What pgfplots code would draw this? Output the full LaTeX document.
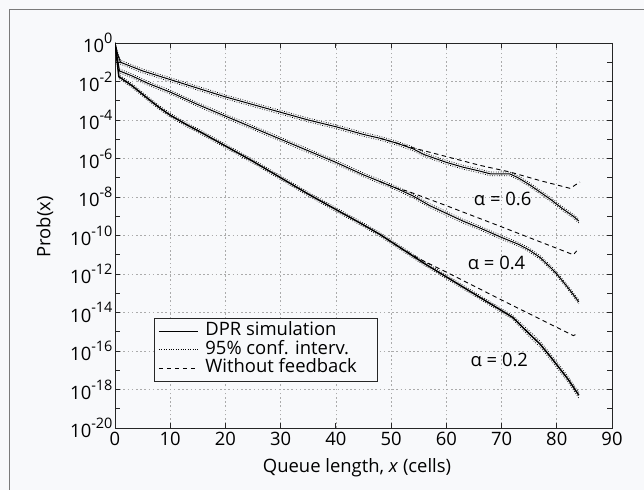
\documentclass[border=0pt]{standalone}
\usepackage{fontspec}
\setmainfont{Open Sans}
\usepackage{pgfplots}
\pgfplotsset{compat=1.18}
\usepackage{pgfplotstable}
\definecolor{bg}{HTML}{F8F9FB}
\definecolor{framegray}{HTML}{7A7A7A}
\definecolor{gridgray}{HTML}{ABABAB}
\newcommand\tf{\fontsize{18.5}{21}\selectfont}
\newcommand\ex[1]{10\raisebox{0.5em}{\fontsize{14.5}{15}\selectfont #1}}

% alpha = 0.6
\pgfplotstableread{
x y lo hi
0 1 1 1
0.5 2.512e-1 1.995e-1 3.162e-1
1 1e-1 7.943e-2 1.259e-1
5 3.548e-2 2.818e-2 4.467e-2
10 1.259e-2 1e-2 1.585e-2
15 4.467e-3 3.548e-3 5.623e-3
20 1.585e-3 1.259e-3 1.995e-3
25 6.310e-4 5.012e-4 7.943e-4
30 2.512e-4 1.995e-4 3.162e-4
35 1e-4 7.943e-5 1.259e-4
40 4.467e-5 3.548e-5 5.623e-5
45 1.778e-5 1.413e-5 2.239e-5
48 1.122e-5 8.913e-6 1.413e-5
51 6.310e-6 5.012e-6 7.943e-6
54 3.162e-6 2.512e-6 3.981e-6
56 1.585e-6 1.259e-6 1.995e-6
58 1e-6 7.943e-7 1.259e-6
60 6.310e-7 5.012e-7 7.943e-7
63 3.548e-7 2.818e-7 4.467e-7
66 2.239e-7 1.778e-7 2.818e-7
68 1.585e-7 1.259e-7 1.995e-7
71.5 1.585e-7 1.259e-7 1.995e-7
73 1e-7 7.943e-8 1.259e-7
75 4.467e-8 3.548e-8 5.623e-8
77 1.778e-8 1.413e-8 2.239e-8
79 7.079e-9 5.623e-9 8.913e-9
81 2.512e-9 1.995e-9 3.162e-9
83 1e-9 7.943e-10 1.259e-9
84 5.623e-10 4.467e-10 7.079e-10
}\simA
\pgfplotstableread{
x y
48 1.122e-5
51 6.310e-6
54 3.548e-6
60 1.259e-6
66 4.467e-7
71.5 1.995e-7
77 7.079e-8
82.4 2.818e-8
84.2 6.0e-8
}\nofbA

% alpha = 0.4
\pgfplotstableread{
x y lo hi
0 1 1 1
0.8 3.548e-2 2.818e-2 4.467e-2
3 1.995e-2 1.585e-2 2.512e-2
6 7.943e-3 6.310e-3 1e-2
10 2.818e-3 2.239e-3 3.548e-3
15 6.310e-4 5.012e-4 7.943e-4
20 1.585e-4 1.259e-4 1.995e-4
25 3.981e-5 3.162e-5 5.012e-5
30 1e-5 7.943e-6 1.259e-5
35 2.512e-6 1.995e-6 3.162e-6
40 6.310e-7 5.012e-7 7.943e-7
45 1.413e-7 1.122e-7 1.778e-7
48 6.310e-8 5.012e-8 7.943e-8
51 2.818e-8 2.239e-8 3.548e-8
54 1.122e-8 8.913e-9 1.413e-8
57 3.548e-9 2.818e-9 4.467e-9
60 1.413e-9 1.122e-9 1.778e-9
63 5.623e-10 4.467e-10 7.079e-10
66 2.512e-10 1.995e-10 3.162e-10
70 7.943e-11 6.310e-11 1e-10
73 3.548e-11 2.818e-11 4.467e-11
75 1.778e-11 1.413e-11 2.239e-11
77 7.079e-12 5.623e-12 8.913e-12
79 1.995e-12 1.585e-12 2.512e-12
80 1e-12 7.943e-13 1.259e-12
82 1.995e-13 1.585e-13 2.512e-13
84 3.548e-14 2.818e-14 4.467e-14
}\simB
\pgfplotstableread{
x y
48 6.310e-8
51 2.818e-8
53 2.0e-8
60 3.548e-9
70 2.818e-10
83 1e-11
83.6 1.585e-11
}\nofbB

% alpha = 0.2
\pgfplotstableread{
x y lo hi
0 1 1 1
0.7 1.778e-2 1.413e-2 2.239e-2
3 6.310e-3 5.012e-3 7.943e-3
6 1.259e-3 1e-3 1.585e-3
8 4.467e-4 3.548e-4 5.623e-4
10 1.778e-4 1.413e-4 2.239e-4
13 5.623e-5 4.467e-5 7.079e-5
15 2.818e-5 2.239e-5 3.548e-5
20 4.467e-6 3.548e-6 5.623e-6
25 7.079e-7 5.623e-7 8.913e-7
30 1e-7 7.943e-8 1.259e-7
35 1.413e-8 1.122e-8 1.778e-8
40 2.239e-9 1.778e-9 2.818e-9
45 3.548e-10 2.818e-10 4.467e-10
48 1.122e-10 8.913e-11 1.413e-10
52 1.995e-11 1.585e-11 2.512e-11
56 3.548e-12 2.818e-12 4.467e-12
60 7.079e-13 5.623e-13 8.913e-13
64 1.413e-13 1.122e-13 1.778e-13
68 2.818e-14 2.239e-14 3.548e-14
72 5.623e-15 4.467e-15 7.079e-15
75 7.943e-16 5.623e-16 1.122e-15
77 2.239e-16 1.585e-16 3.162e-16
79 4.467e-17 3.162e-17 6.310e-17
82 3.548e-18 2.512e-18 5.012e-18
84 5.012e-19 3.548e-19 7.079e-19
}\simC
\pgfplotstableread{
x y
48 1.122e-10
52 1.995e-11
55 6.310e-12
60 1.259e-12
70 4.467e-14
83 6.310e-16
83.7 7.943e-16
}\nofbC

\begin{document}
\begin{tikzpicture}
\useasboundingbox (0,0) rectangle (644bp,490bp);
\fill[bg] (0,0) rectangle (644bp,490bp);
\draw[framegray, line width=1.1bp] (9.3bp,0) -- (9.3bp,480.7bp) -- (644bp,480.7bp);
\begin{axis}[
  at={(115bp,62bp)}, anchor=south west,
  scale only axis, width=497bp, height=385bp,
  xmin=0, xmax=90, ymode=log, ymin=1e-20, ymax=1,
  xtick={0,10,...,90},
  xticklabels={0,10,20,30,40,50,60,70,80,90},
  ytick={1,1e-2,1e-4,1e-6,1e-8,1e-10,1e-12,1e-14,1e-16,1e-18,1e-20},
  yticklabels={\ex{0},\ex{-2},\ex{-4},\ex{-6},\ex{-8},\ex{-10},\ex{-12},\ex{-14},\ex{-16},\ex{-18},\ex{-20}},
  minor ytick={1e-1,1e-3,1e-5,1e-7,1e-9,1e-11,1e-13,1e-15,1e-17,1e-19},
  xtick pos=both, ytick pos=both, xticklabel pos=lower, yticklabel pos=left,
  tick align=inside, major tick length=5bp, minor tick length=5bp,
  xmajorgrids, ymajorgrids,
  major grid style={gridgray, dash pattern=on 1.6bp off 2.6bp, line width=0.7bp},
  axis line style={black!85, line width=0.9bp},
  every tick/.style={black!85, line width=0.9bp},
  tick label style={font=\tf},
  yticklabel style={xshift=1bp},
  xticklabel style={yshift=-1bp},
  xlabel={Queue length, \textit{x} (cells)},
  ylabel={Prob(x)},
  label style={font=\tf},
  xlabel style={at={(axis description cs:0.487,-0.104)}, anchor=center},
  ylabel style={at={(axis description cs:-0.141,0.522)}, anchor=center},
  legend style={at={(0.0785,0.286)}, anchor=north west, draw=black!85, line width=0.8bp,
    fill=bg, font=\tf, inner xsep=4bp, inner ysep=3.5bp, row sep=0bp, column sep=5bp,
    nodes={text height=12.5bp, text depth=3.5bp, inner ysep=1.3bp, inner xsep=2bp}},
  legend cell align=left,
  legend image code/.code={\draw[#1] (0bp,0bp) -- (39bp,0bp);},
  solidl/.style={black, line width=1bp},
  dotl/.style={black, line width=0.7bp, dash pattern=on 0.8bp off 1.6bp},
  dashl/.style={black, line width=0.9bp, dash pattern=on 4.5bp off 3.5bp},
]
\addplot[solidl] table[x=x,y=y] {\simA};
\addlegendentry{DPR simulation}
\addplot[dotl] table[x=x,y=lo] {\simA};
\addlegendentry{95\% conf. interv.}
\addplot[dashl] table[x=x,y=y] {\nofbA};
\addlegendentry{Without feedback\rule{14bp}{0pt}}
\addplot[dotl, forget plot] table[x=x,y=hi] {\simA};

\addplot[solidl, forget plot] table[x=x,y=y] {\simB};
\addplot[dotl, forget plot] table[x=x,y=lo] {\simB};
\addplot[dotl, forget plot] table[x=x,y=hi] {\simB};
\addplot[dashl, forget plot] table[x=x,y=y] {\nofbB};

\addplot[solidl, line width=1.5bp, forget plot] table[x=x,y=y] {\simC};
\addplot[dotl, forget plot] table[x=x,y=lo] {\simC};
\addplot[dotl, forget plot] table[x=x,y=hi] {\simC};
\addplot[dashl, forget plot] table[x=x,y=y] {\nofbC};

\node[font=\tf] at (axis cs:70.2,7.943e-9) {α = 0.6};
\node[font=\tf] at (axis cs:69.1,3.981e-12) {α = 0.4};
\node[font=\tf] at (axis cs:69.6,3.47e-17) {α = 0.2};
\end{axis}
\end{tikzpicture}
\end{document}
